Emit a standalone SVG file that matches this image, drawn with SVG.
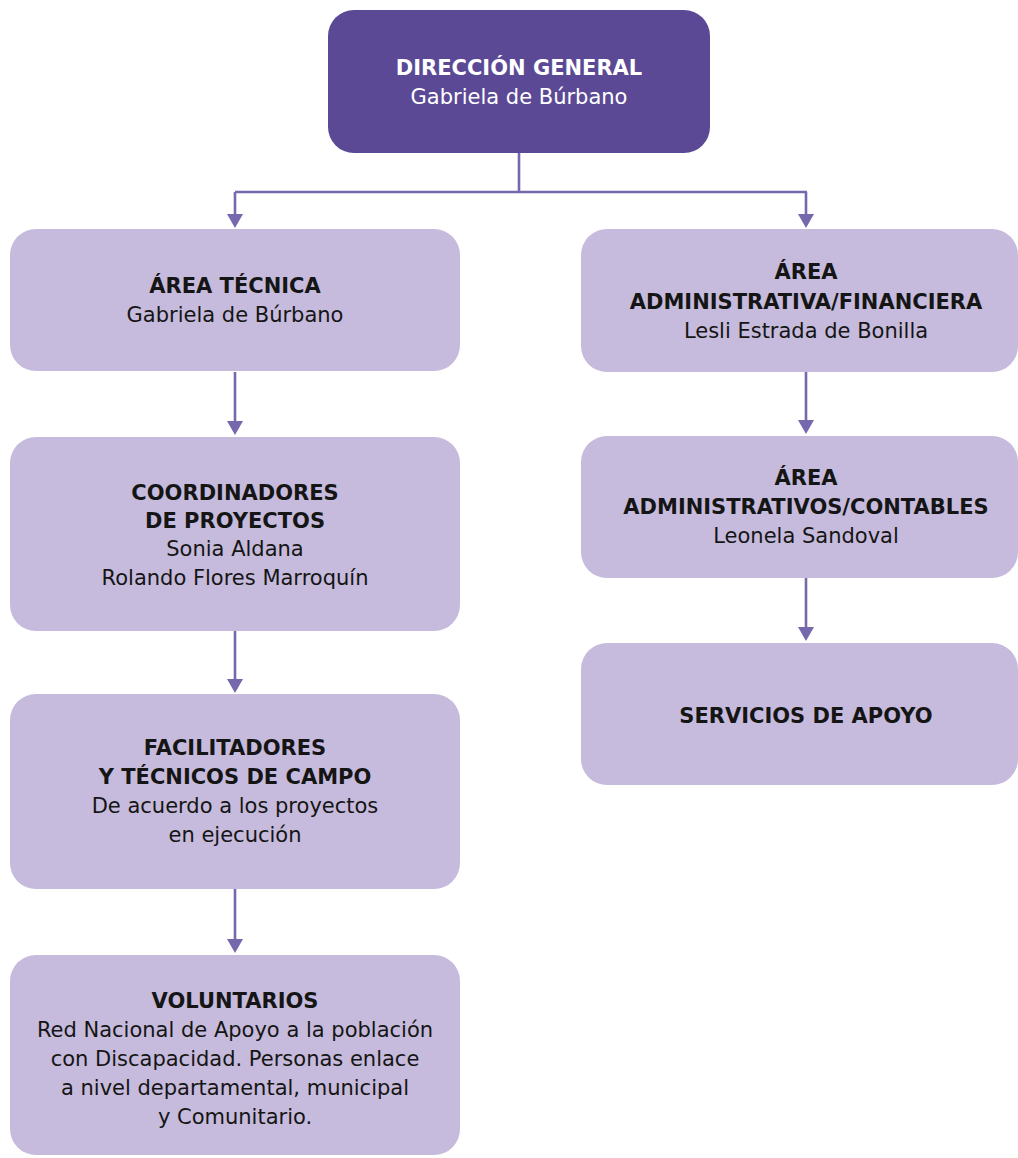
<svg xmlns="http://www.w3.org/2000/svg" width="1018" height="1158" viewBox="0 0 1018 1158">
<defs>
<style>
.top{fill:#5b4996}
.box{fill:#c6bbdc}
.t{font-family:"DejaVu Sans","Liberation Sans",sans-serif;font-size:21px;text-anchor:middle;fill:#151515}
.b{font-weight:700}
.w{fill:#ffffff}
.c{stroke:#7767ac;stroke-width:2.6;fill:none}
.h{fill:#7767ac}
</style>
</defs>
<rect width="1018" height="1158" fill="#ffffff"/>
<g id="connectors">
<path class="c" d="M519,153 V192 M235,192 H807"/>
<path class="c" d="M235,192 V214"/><path class="h" d="M227,214 H243 L235,228 Z"/>
<path class="c" d="M806,192 V214"/><path class="h" d="M798,214 H814 L806,228 Z"/>
<path class="c" d="M235,372 V422"/><path class="h" d="M227,421 H243 L235,435 Z"/>
<path class="c" d="M235,631 V680"/><path class="h" d="M227,679 H243 L235,693 Z"/>
<path class="c" d="M235,889 V940"/><path class="h" d="M227,939 H243 L235,953 Z"/>
<path class="c" d="M806,372 V421"/><path class="h" d="M798,420 H814 L806,434 Z"/>
<path class="c" d="M806,578 V628"/><path class="h" d="M798,627 H814 L806,641 Z"/>
</g>
<g id="n-direccion">
<rect class="top" x="328" y="10" width="382" height="143" rx="26"/>
<text class="t b w" x="519" y="75">DIRECCIÓN GENERAL</text>
<text class="t w" x="519" y="104">Gabriela de Búrbano</text>
</g>
<g id="n-tecnica">
<rect class="box" x="10" y="229" width="450" height="142" rx="26"/>
<text class="t b" x="235" y="293">ÁREA TÉCNICA</text>
<text class="t" x="235" y="322">Gabriela de Búrbano</text>
</g>
<g id="n-coordinadores">
<rect class="box" x="10" y="437" width="450" height="194" rx="26"/>
<text class="t b" x="235" y="500">COORDINADORES</text>
<text class="t b" x="235" y="528">DE PROYECTOS</text>
<text class="t" x="235" y="556">Sonia Aldana</text>
<text class="t" x="235" y="585">Rolando Flores Marroquín</text>
</g>
<g id="n-facilitadores">
<rect class="box" x="10" y="694" width="450" height="195" rx="26"/>
<text class="t b" x="235" y="755">FACILITADORES</text>
<text class="t b" x="235" y="784">Y TÉCNICOS DE CAMPO</text>
<text class="t" x="235" y="813">De acuerdo a los proyectos</text>
<text class="t" x="235" y="842">en ejecución</text>
</g>
<g id="n-voluntarios">
<rect class="box" x="10" y="955" width="450" height="200" rx="26"/>
<text class="t b" x="235" y="1008">VOLUNTARIOS</text>
<text class="t" x="235" y="1037">Red Nacional de Apoyo a la población</text>
<text class="t" x="235" y="1066">con Discapacidad. Personas enlace</text>
<text class="t" x="235" y="1095">a nivel departamental, municipal</text>
<text class="t" x="235" y="1124">y Comunitario.</text>
</g>
<g id="n-administrativa">
<rect class="box" x="581" y="229" width="437" height="143" rx="26"/>
<text class="t b" x="806" y="279">ÁREA</text>
<text class="t b" x="806" y="309">ADMINISTRATIVA/FINANCIERA</text>
<text class="t" x="806" y="338">Lesli Estrada de Bonilla</text>
</g>
<g id="n-contables">
<rect class="box" x="581" y="436" width="437" height="142" rx="26"/>
<text class="t b" x="806" y="485">ÁREA</text>
<text class="t b" x="806" y="514">ADMINISTRATIVOS/CONTABLES</text>
<text class="t" x="806" y="543">Leonela Sandoval</text>
</g>
<g id="n-servicios">
<rect class="box" x="581" y="643" width="437" height="142" rx="26"/>
<text class="t b" x="806" y="723">SERVICIOS DE APOYO</text>
</g>
</svg>
